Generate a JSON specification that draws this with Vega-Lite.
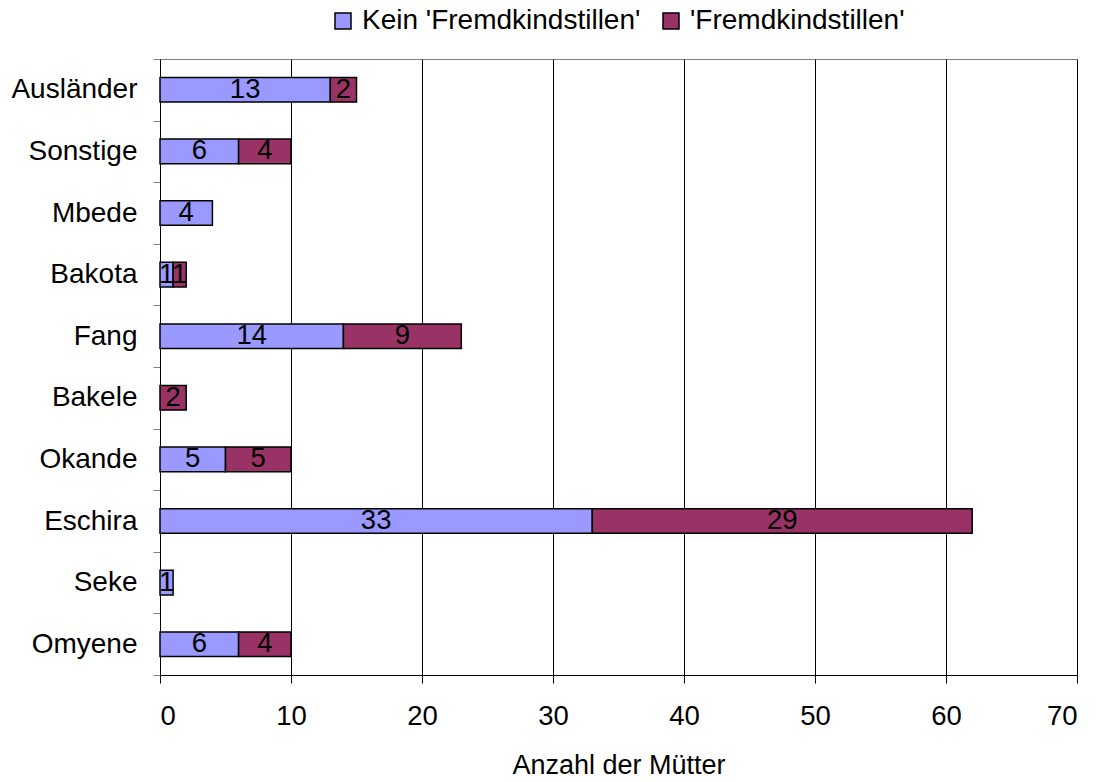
{
  "$schema": "https://vega.github.io/schema/vega-lite/v6.json",
  "autosize": "none",
  "width": 917,
  "height": 616,
  "padding": {"left": 160, "top": 59, "right": 27, "bottom": 107},
  "background": "white",
  "config": {
    "font": "Liberation Sans",
    "view": {"stroke": "#808080", "strokeWidth": 1}
  },
  "data": {
    "values": [
      {"g": "Ausländer", "t": "Kein 'Fremdkindstillen'", "o": 1, "n": 13},
      {"g": "Ausländer", "t": "'Fremdkindstillen'", "o": 2, "n": 2},
      {"g": "Sonstige", "t": "Kein 'Fremdkindstillen'", "o": 1, "n": 6},
      {"g": "Sonstige", "t": "'Fremdkindstillen'", "o": 2, "n": 4},
      {"g": "Mbede", "t": "Kein 'Fremdkindstillen'", "o": 1, "n": 4},
      {"g": "Bakota", "t": "Kein 'Fremdkindstillen'", "o": 1, "n": 1},
      {"g": "Bakota", "t": "'Fremdkindstillen'", "o": 2, "n": 1},
      {"g": "Fang", "t": "Kein 'Fremdkindstillen'", "o": 1, "n": 14},
      {"g": "Fang", "t": "'Fremdkindstillen'", "o": 2, "n": 9},
      {"g": "Bakele", "t": "'Fremdkindstillen'", "o": 2, "n": 2},
      {"g": "Okande", "t": "Kein 'Fremdkindstillen'", "o": 1, "n": 5},
      {"g": "Okande", "t": "'Fremdkindstillen'", "o": 2, "n": 5},
      {"g": "Eschira", "t": "Kein 'Fremdkindstillen'", "o": 1, "n": 33},
      {"g": "Eschira", "t": "'Fremdkindstillen'", "o": 2, "n": 29},
      {"g": "Seke", "t": "Kein 'Fremdkindstillen'", "o": 1, "n": 1},
      {"g": "Omyene", "t": "Kein 'Fremdkindstillen'", "o": 1, "n": 6},
      {"g": "Omyene", "t": "'Fremdkindstillen'", "o": 2, "n": 4}
    ]
  },
  "encoding": {
    "y": {
      "field": "g",
      "type": "nominal",
      "sort": ["Ausländer", "Sonstige", "Mbede", "Bakota", "Fang", "Bakele", "Okande", "Eschira", "Seke", "Omyene"],
      "scale": {"paddingInner": 0, "paddingOuter": 0},
      "axis": {
        "title": null,
        "domainColor": "black",
        "domainWidth": 1,
        "tickColor": "#808080",
        "tickSize": 7,
        "tickBand": "extent",
        "labelFontSize": 28,
        "labelColor": "black",
        "labelPadding": 16,
        "grid": false
      }
    }
  },
  "layer": [
    {
      "mark": {"type": "bar", "height": {"band": 0.4}, "stroke": "black", "strokeWidth": 1.5},
      "encoding": {
        "x": {
          "field": "n",
          "type": "quantitative",
          "stack": "zero",
          "scale": {"domain": [0, 70], "nice": false},
          "axis": {
            "values": [0, 10, 20, 30, 40, 50, 60, 70],
            "grid": true,
            "gridColor": "black",
            "gridWidth": 1,
            "domainColor": "black",
            "tickColor": "black",
            "tickSize": 8,
            "labelFontSize": 27.5,
            "labelColor": "black",
            "labelPadding": 19,
            "title": "Anzahl der Mütter",
            "titleFontSize": 27,
            "titleFontWeight": "normal",
            "titleColor": "black",
            "titlePadding": 23
          }
        },
        "color": {
          "field": "t",
          "type": "nominal",
          "scale": {"domain": ["Kein 'Fremdkindstillen'", "'Fremdkindstillen'"], "range": ["#9999FF", "#993366"]},
          "legend": {
            "title": null,
            "orient": "none",
            "direction": "horizontal",
            "legendX": 169,
            "legendY": -52,
            "padding": 0,
            "symbolType": "square",
            "symbolSize": 256,
            "symbolStrokeColor": "black",
            "symbolStrokeWidth": 1.5,
            "labelFontSize": 28,
            "labelColor": "black",
            "labelOffset": 5,
            "labelLimit": 0,
            "columnPadding": 16
          }
        },
        "order": {"field": "o", "type": "quantitative"}
      }
    },
    {
      "mark": {"type": "text", "fontSize": 27.5, "color": "black", "baseline": "middle", "align": "center"},
      "encoding": {
        "x": {"field": "n", "type": "quantitative", "stack": "zero", "bandPosition": 0.5},
        "detail": {"field": "t"},
        "order": {"field": "o", "type": "quantitative"},
        "text": {"field": "n", "type": "quantitative"}
      }
    }
  ]
}
